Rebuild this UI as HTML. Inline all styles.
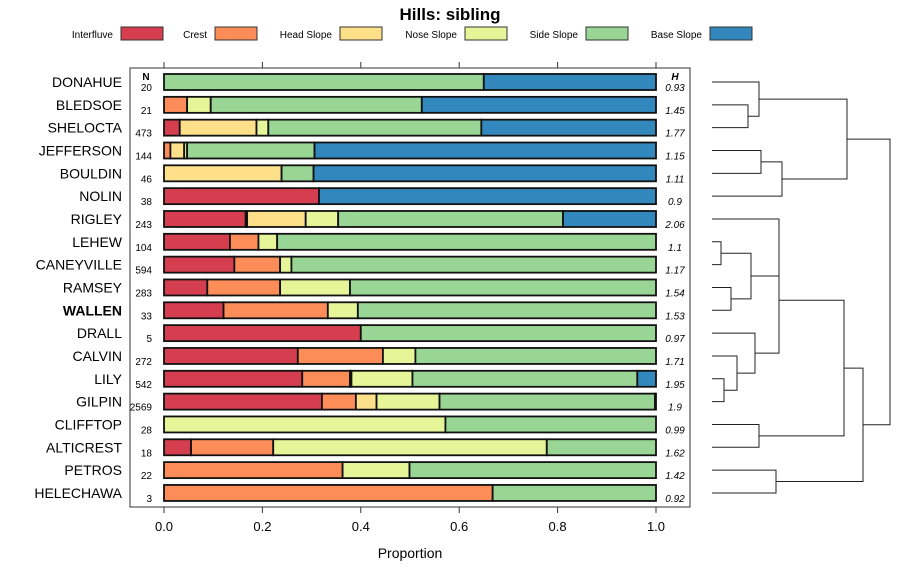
<!DOCTYPE html>
<html><head><meta charset="utf-8"><style>
body{margin:0;background:#fff;font-family:"Liberation Sans",sans-serif}
svg text{font-family:"Liberation Sans",sans-serif}
</style></head><body>
<svg id="c" width="900" height="580" xmlns="http://www.w3.org/2000/svg"></svg>
<script>
const classes=["Interfluve","Crest","Head Slope","Nose Slope","Side Slope","Base Slope"];
const colors=["#D53E4F","#FC8D59","#FEE08B","#E6F598","#99D594","#3288BD"];
const series=["DONAHUE","BLEDSOE","SHELOCTA","JEFFERSON","BOULDIN","NOLIN","RIGLEY","LEHEW","CANEYVILLE","RAMSEY","WALLEN","DRALL","CALVIN","LILY","GILPIN","CLIFFTOP","ALTICREST","PETROS","HELECHAWA"];
const nVals=[20,21,473,144,46,38,243,104,594,283,33,5,272,542,2569,28,18,22,3];
const hVals=["0.93","1.45","1.77","1.15","1.11","0.9","2.06","1.1","1.17","1.54","1.53","0.97","1.71","1.95","1.9","0.99","1.62","1.42","0.92"];
const interfluve=[0,0,0.032,0,0,0.315,0.166,0.134,0.143,0.088,0.121,0.4,0.272,0.281,0.321,0,0.055,0,0];
const crest=[0,0.047,0,0.013,0,0,0.003,0.058,0.093,0.148,0.212,0,0.173,0.097,0.069,0,0.167,0.363,0.668];
const headSlope=[0,0,0.156,0.028,0.239,0,0.119,0,0,0,0,0,0,0.003,0.042,0,0,0,0];
const noseSlope=[0,0.048,0.024,0.006,0,0,0.066,0.038,0.023,0.142,0.061,0,0.066,0.124,0.128,0.572,0.556,0.136,0];
const sideSlope=[0.65,0.429,0.433,0.259,0.065,0,0.457,0.77,0.741,0.622,0.606,0.6,0.489,0.457,0.438,0.428,0.222,0.501,0.332];
const baseSlope=[0.35,0.476,0.355,0.694,0.696,0.685,0.189,0,0,0,0,0,0,0.038,0.002,0,0,0,0];
const xTicks=[0,0.2,0.4,0.6,0.8,1.0];
const xTickLabels=["0.0","0.2","0.4","0.6","0.8","1.0"];
const merges=[[1,2,748],[0,"n0",759],[3,4,761],["n2",5,782],["n1","n3",847],
[7,8,721],[9,10,731],["n5","n6",751],[13,14,724],[12,"n8",737],[11,"n9",755],[6,"n7",779],["n11","n10",779],
[15,16,759],["n12","n13",844],[17,18,776],["n14","n15",863],["n4","n16",890]];

const svg=document.getElementById('c');const NS="http://www.w3.org/2000/svg";
function el(t,a,txt){const e=document.createElementNS(NS,t);for(const k in a)e.setAttribute(k,a[k]);if(txt!==undefined)e.textContent=txt;svg.appendChild(e);return e;}
const x0=164,x1=656;const X=v=>x0+v*(x1-x0);
const Y=i=>82+i*22.83;
let t=el('text',{x:450,y:20,'text-anchor':'middle','font-size':17,'font-weight':'bold'},'Hills: sibling');


const legX=[121,215,340,465,586,710];
classes.forEach((c,i)=>{
  const lt=el('text',{x:legX[i]-8,y:38,'text-anchor':'end','font-size':10},c);
  
  
  const r=el('rect',{x:legX[i],y:27,width:42,height:13,fill:colors[i],stroke:'#333','stroke-width':1});
  
  
});
const p=el('rect',{x:130,y:68,width:560,height:439,fill:'none',stroke:'#333','stroke-width':1});


xTicks.forEach((v,i)=>{
  const tk=el('line',{x1:X(v),x2:X(v),y1:507,y2:513,stroke:'#333'});
  
  
  const tt=el('line',{x1:X(v),x2:X(v),y1:62,y2:68,stroke:'#333'});
  
  
  const tl=el('text',{x:X(v),y:531,'text-anchor':'middle','font-size':13},xTickLabels[i]);
  
  
});
const xt=el('text',{x:410,y:558,'text-anchor':'middle','font-size':14},'Proportion');


let nh=el('text',{x:146,y:80,'text-anchor':'middle','font-size':10,'font-weight':'bold'},'N');


let hh=el('text',{x:675,y:80,'text-anchor':'middle','font-size':10,'font-weight':'bold','font-style':'italic'},'H');


const comps=[interfluve,crest,headSlope,noseSlope,sideSlope,baseSlope];
series.forEach((s,i)=>{
  const y=Y(i);
  const lab=el('text',{x:122,y:y+5,'text-anchor':'end','font-size':14,'font-weight':s==='WALLEN'?'bold':'normal'},s);
  
  
  const nt=el('text',{x:152,y:y+9,'text-anchor':'end','font-size':10},nVals[i]);
  
  
  const ht=el('text',{x:675,y:y+9,'text-anchor':'middle','font-size':10,'font-style':'italic'},hVals[i]);
  
  
  let cum=0;
  comps.forEach((arr,k)=>{
    const v=arr[i];
    if(v>0){
      const r=el('rect',{x:X(cum),y:y-8,width:X(cum+v)-X(cum),height:16,fill:colors[k],stroke:'#111','stroke-width':1.8});
      
      
    }
    cum+=v;
  });
});
const leafX=712;const nodes=[];
function pos(r){return typeof r==='number'?{x:leafX,y:Y(r)}:nodes[+r.slice(1)];}
merges.forEach(m=>{
  const a=pos(m[0]),b=pos(m[1]),h=m[2];
  const pth=el('path',{d:`M${a.x},${a.y}H${h}V${b.y}H${b.x}`,fill:'none',stroke:'#222','stroke-width':1});
  
  
  nodes.push({x:h,y:(a.y+b.y)/2});
});
</script>
</body></html>
